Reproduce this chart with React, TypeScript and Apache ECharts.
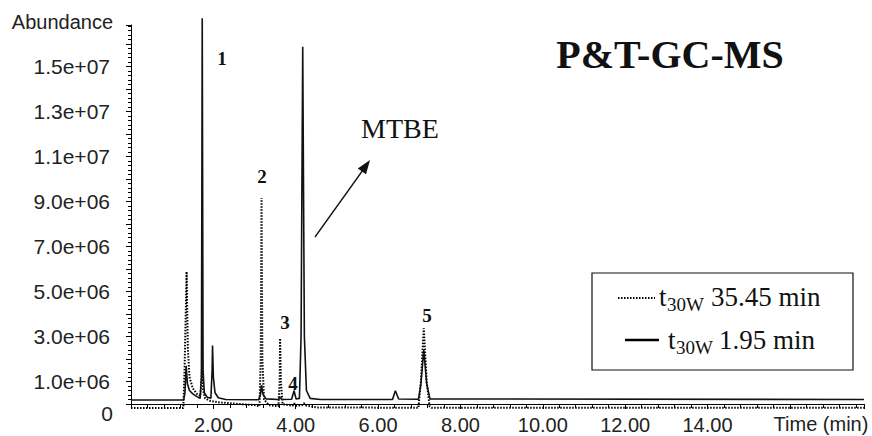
import React, { useEffect, useRef } from 'react';
import * as echarts from 'echarts';

// ---- data (time in min, abundance) ----
const SERIES_NAMES = ['t30W 35.45 min', 't30W 1.95 min'];

const DOTTED_T = [0, 1.27, 1.3, 1.35, 1.38, 1.42, 1.5, 1.6, 1.68, 1.71, 1.73, 1.75, 1.8, 1.9, 2.1, 2.5, 3.0, 3.12, 3.15, 3.17, 3.19, 3.23, 3.35, 3.58, 3.61, 3.62, 3.64, 3.68, 3.92, 3.96, 4.0, 4.15, 4.2, 4.26, 4.5, 6.98, 7.04, 7.11, 7.18, 7.25, 7.3, 17.8];
const DOTTED_V = [-180000, -180000, 1500000, 5880000, 2500000, 1200000, 700000, 450000, 350000, 1000000, 1950000, 600000, 250000, 150000, 80000, 20000, -50000, -100000, 2000000, 9160000, 2000000, 200000, -50000, -100000, 1000000, 2920000, 1000000, 0, -80000, 30000, -80000, -60000, 40000, -80000, -150000, -170000, 1000000, 3360000, 1000000, -100000, -170000, -170000];

const SOLID_T = [0, 1.28, 1.31, 1.34, 1.37, 1.42, 1.5, 1.6, 1.68, 1.71, 1.73, 1.75, 1.78, 1.85, 1.94, 1.97, 1.98, 2.0, 2.04, 2.12, 2.3, 3.1, 3.14, 3.17, 3.2, 3.28, 3.58, 3.62, 3.66, 3.9, 3.96, 4.01, 4.09, 4.13, 4.17, 4.21, 4.26, 4.35, 4.6, 6.35, 6.42, 6.5, 6.98, 7.04, 7.11, 7.18, 7.26, 17.8];
const SOLID_V = [180000, 180000, 500000, 1700000, 900000, 600000, 450000, 330000, 250000, 1200000, 17150000, 1500000, 500000, 300000, 260000, 1500000, 2600000, 1200000, 500000, 280000, 200000, 190000, 400000, 840000, 450000, 230000, 200000, 320000, 200000, 210000, 590000, 220000, 250000, 3000000, 15880000, 3000000, 600000, 250000, 200000, 200000, 590000, 220000, 210000, 900000, 2400000, 900000, 230000, 200000];

const X_TICK_VALUES = [2, 4, 6, 8, 10, 12, 14];
const X_TICK_LABELS = ['2.00', '4.00', '6.00', '8.00', '10.00', '12.00', '14.00'];
const Y_TICK_VALUES = [0, 1000000, 3000000, 5000000, 7000000, 9000000, 11000000, 13000000, 15000000];
const Y_TICK_LABELS = ['0', '1.0e+06', '3.0e+06', '5.0e+06', '7.0e+06', '9.0e+06', '1.1e+07', '1.3e+07', '1.5e+07'];
const PEAK_LABELS = ['1', '2', '3', '4', '5'];

const SANS = '"Liberation Sans", Arial, sans-serif';
const SERIF = '"Liberation Serif", "Times New Roman", serif';

export default function App() {
  const ref = useRef<HTMLDivElement>(null);

  useEffect(() => {
    document.body.style.margin = '0';
    if (!ref.current) return;
    const chart = echarts.init(ref.current, undefined, { renderer: 'svg' });

    const dotted = DOTTED_T.map((t, i) => [t, DOTTED_V[i]]);
    const solid = SOLID_T.map((t, i) => [t, SOLID_V[i]]);

    const peakPos = [
      [222, 58],
      [262, 176],
      [285, 322],
      [293, 383],
      [427, 315],
    ];

    const option: any = {
      animation: false,
      backgroundColor: '#fff',
      grid: { left: 131, right: 8, top: 25, bottom: 32, containLabel: false },
      xAxis: {
        type: 'value',
        min: 0,
        max: 17.8,
        interval: 2,
        offset: 4,
        axisLine: { lineStyle: { color: '#000', width: 1 } },
        axisTick: { show: true, inside: false, length: 5, lineStyle: { color: '#000' } },
        minorTick: { show: true, splitNumber: 5, length: 4, lineStyle: { color: '#000' } },
        splitLine: { show: false },
        axisLabel: {
          margin: 7,
          color: '#222',
          fontFamily: SANS,
          fontSize: 20,
          showMaxLabel: false,
          formatter: (v: number) => {
            const i = X_TICK_VALUES.indexOf(Math.round(v * 100) / 100);
            return i >= 0 ? X_TICK_LABELS[i] : '';
          },
        },
      },
      yAxis: {
        type: 'value',
        min: 0,
        max: 16850000,
        interval: 1000000,
        axisLine: { show: true, lineStyle: { color: '#000', width: 1 } },
        axisTick: { show: true, inside: false, length: 5, lineStyle: { color: '#000' } },
        minorTick: { show: true, splitNumber: 5, length: 3, lineStyle: { color: '#000' } },
        splitLine: { show: false },
        axisLabel: {
          margin: 18,
          color: '#222',
          fontFamily: SANS,
          fontSize: 21,
          showMaxLabel: false,
          formatter: (v: number) => {
            const i = Y_TICK_VALUES.indexOf(Math.round(v));
            if (i < 0) return '';
            return i === 0 ? '{z|' + Y_TICK_LABELS[i] + '}' : '{a|' + Y_TICK_LABELS[i] + '}';
          },
          rich: {
            a: { fontFamily: SANS, fontSize: 21, color: '#222', padding: [0, 3, 0, 0] },
            z: { fontFamily: SANS, fontSize: 21, color: '#222', padding: [18, 0, 0, 0] },
          },
        },
      },
      series: [
        {
          name: SERIES_NAMES[0],
          type: 'line',
          data: dotted,
          showSymbol: false,
          symbol: 'none',
          clip: false,
          z: 3,
          lineStyle: { color: '#000', width: 2, type: [1.5, 1.5] },
        },
        {
          name: SERIES_NAMES[1],
          type: 'line',
          data: solid,
          showSymbol: false,
          symbol: 'none',
          clip: false,
          z: 4,
          lineStyle: { color: '#111', width: 1.6 },
        },
      ],
      graphic: [
        { type: 'line', shape: { x1: 131.5, y1: 403, x2: 131.5, y2: 409 }, style: { stroke: '#000', lineWidth: 1 } },
        { type: 'text', x: 113, y: 22, style: { text: 'Abundance', font: '20px ' + SANS, fill: '#222', align: 'right', verticalAlign: 'middle' } },
        { type: 'text', x: 821, y: 424, style: { text: 'Time (min)', font: '20px ' + SANS, fill: '#222', align: 'center', verticalAlign: 'middle' } },
        { type: 'text', x: 670, y: 54, style: { text: 'P&T-GC-MS', font: 'bold 40px ' + SERIF, fill: '#111', align: 'center', verticalAlign: 'middle' } },
        { type: 'text', x: 400, y: 128, style: { text: 'MTBE', font: '28px ' + SERIF, fill: '#111', align: 'center', verticalAlign: 'middle' } },
        { type: 'line', shape: { x1: 315, y1: 237, x2: 363, y2: 170 }, style: { stroke: '#111', lineWidth: 1.3 } },
        { type: 'polygon', shape: { points: [[370, 160], [366, 174.3], [357.8, 168.5]] }, style: { fill: '#111' } },
        ...PEAK_LABELS.map((t, i) => ({
          type: 'text', x: peakPos[i][0], y: peakPos[i][1],
          style: { text: t, font: 'bold 19px ' + SERIF, fill: '#111', align: 'center', verticalAlign: 'middle' },
        })),
        { type: 'rect', shape: { x: 592, y: 273, width: 261, height: 97 }, style: { fill: '#fff', stroke: '#111', lineWidth: 1.2 }, z: 10 },
        { type: 'line', shape: { x1: 618, y1: 298, x2: 655, y2: 298 }, style: { stroke: '#000', lineWidth: 2, lineDash: [1.5, 1.5] }, z: 11 },
        { type: 'line', shape: { x1: 625, y1: 340, x2: 659, y2: 340 }, style: { stroke: '#000', lineWidth: 2.5 }, z: 11 },
        { type: 'text', x: 659, y: 297, style: { text: 't', font: '27px ' + SERIF, fill: '#111', align: 'left', verticalAlign: 'middle' }, z: 11 },
        { type: 'text', x: 667, y: 304, style: { text: '30W', font: '19px ' + SERIF, fill: '#111', align: 'left', verticalAlign: 'middle' }, z: 11 },
        { type: 'text', x: 711, y: 297, style: { text: '35.45 min', font: '27px ' + SERIF, fill: '#111', align: 'left', verticalAlign: 'middle' }, z: 11 },
        { type: 'text', x: 668, y: 340, style: { text: 't', font: '27px ' + SERIF, fill: '#111', align: 'left', verticalAlign: 'middle' }, z: 11 },
        { type: 'text', x: 676, y: 347, style: { text: '30W', font: '19px ' + SERIF, fill: '#111', align: 'left', verticalAlign: 'middle' }, z: 11 },
        { type: 'text', x: 719, y: 340, style: { text: '1.95 min', font: '27px ' + SERIF, fill: '#111', align: 'left', verticalAlign: 'middle' }, z: 11 },
      ],
    };

    chart.setOption(option);
    return () => chart.dispose();
  }, []);

  return <div ref={ref} style={{ width: 872, height: 436 }} />;
}
